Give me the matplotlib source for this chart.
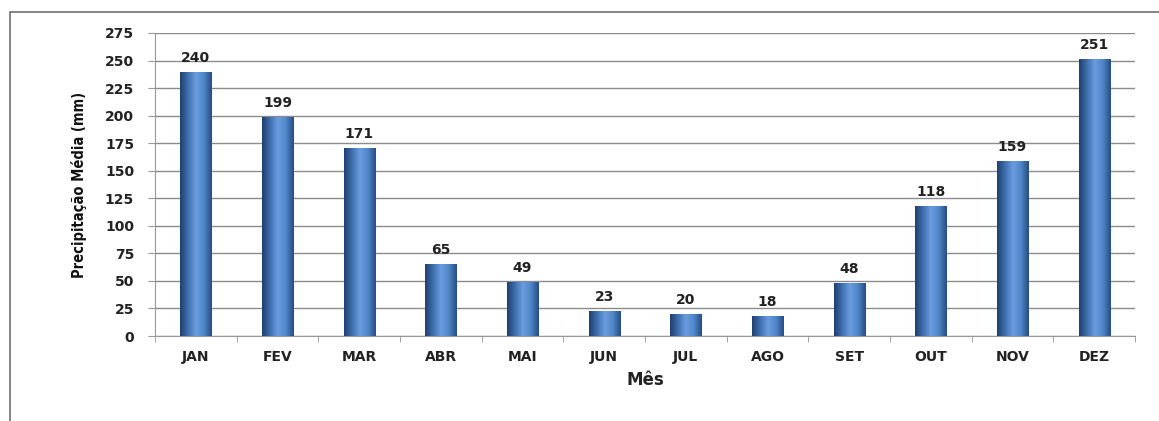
import matplotlib.pyplot as plt
import numpy as np
from matplotlib.colors import LinearSegmentedColormap
from matplotlib.patches import Rectangle

meses = ["JAN", "FEV", "MAR", "ABR", "MAI", "JUN", "JUL", "AGO", "SET", "OUT", "NOV", "DEZ"]
precipitacao = [240, 199, 171, 65, 49, 23, 20, 18, 48, 118, 159, 251]
yticks = np.arange(0, 276, 25)

fig = plt.figure(figsize=(11.59, 4.21), dpi=100)
fig.patch.set_facecolor('white')

# moldura do grafico (so aparecem as bordas de cima e da esquerda)
fig.add_artist(Rectangle((10 / 1159, -0.1), 1.2, 1 - 12 / 421 + 0.1, transform=fig.transFigure,
                         fill=False, edgecolor='#707070', lw=1.2))

ax = fig.add_axes([155 / 1159, 1 - 336 / 421, (1135 - 155) / 1159, (336 - 33) / 421])

x = np.arange(len(meses))
largura = 0.38
barras = ax.bar(x, precipitacao, width=largura, color='#4a7ebb', linewidth=0, zorder=2)

# gradiente horizontal nas barras (escuro nas bordas, claro no centro)
cmap = LinearSegmentedColormap.from_list('azul', ['#1f3f6e', '#3e6fae', '#6a9ce0', '#4f86c8', '#264c82'])
grad = np.linspace(0, 1, 256).reshape(1, -1)
for b in barras:
    x0, y0 = b.get_x(), b.get_y()
    w, h = b.get_width(), b.get_height()
    im = ax.imshow(grad, cmap=cmap, aspect='auto', extent=[x0, x0 + w, y0, y0 + h], zorder=3)
    im.set_clip_path(b)

for xi, v in zip(x, precipitacao):
    ax.annotate(str(v), (xi, v), xytext=(0, 5), textcoords='offset points',
                ha='center', va='bottom', fontsize=10, fontweight='bold', color='#222222')

ax.set_xlim(-0.5, len(meses) - 0.5)
ax.set_ylim(0, 275)
ax.set_yticks(yticks)
ax.set_yticklabels([str(t) for t in yticks], fontsize=10, fontweight='bold', color='#222222')
ax.set_xticks(x)
ax.set_xticklabels(meses, fontsize=10, fontweight='bold', color='#222222')
ax.set_xticks(np.arange(-0.5, len(meses)), minor=True)
ax.tick_params(axis='x', which='major', length=0, pad=10)
ax.tick_params(axis='x', which='minor', length=4, color='#999999', direction='out')
ax.tick_params(axis='y', length=5, color='#999999', pad=10)

ax.yaxis.grid(True, color='#8c8c8c', lw=1.0, zorder=0)
ax.set_axisbelow(True)
for s in ['top', 'right']:
    ax.spines[s].set_visible(False)
ax.spines['left'].set_color('#999999')
ax.spines['bottom'].set_color('#999999')

ax.set_xlabel('Mês', fontsize=12, fontweight='bold', color='#222222', labelpad=5)
ax.set_ylabel('Precipitação Média (mm)', fontsize=10.5, fontweight='bold', color='#111111',
              fontstretch='condensed', labelpad=13)

fig.savefig('out.png', dpi=100)
